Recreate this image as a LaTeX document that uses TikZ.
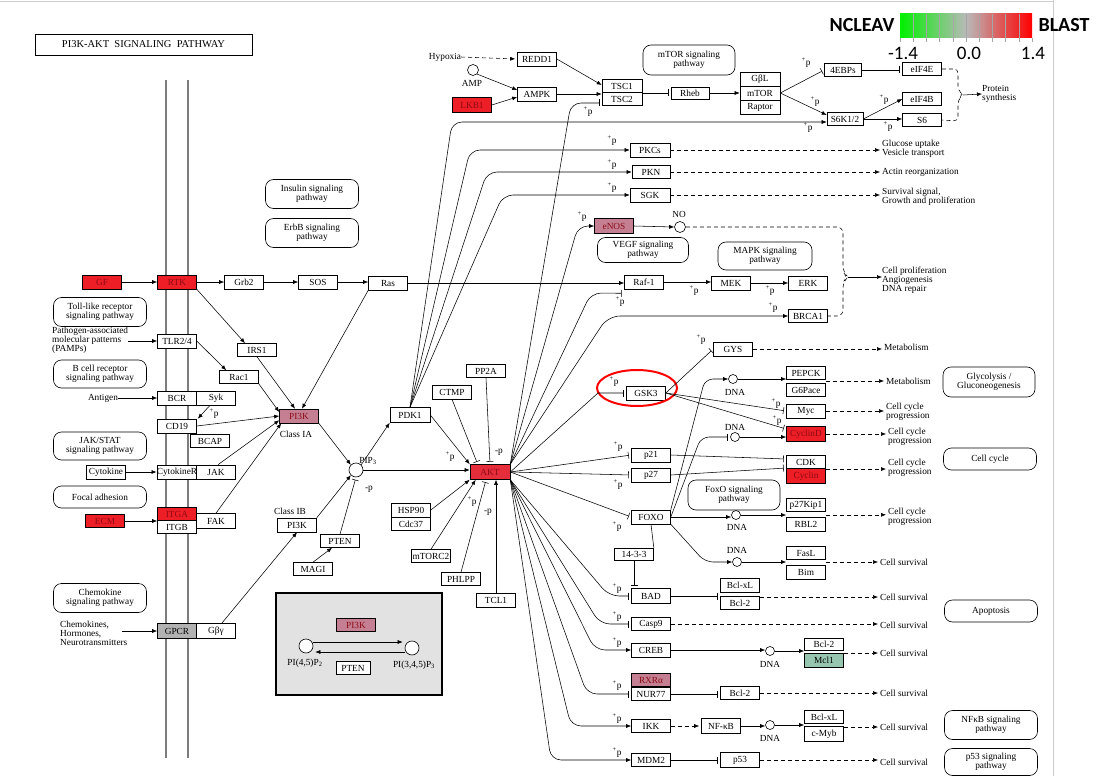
\documentclass[tikz,border=0pt]{standalone}
\usepackage{fontspec}
\setmainfont{Liberation Serif}
\newfontfamily\legfont{Carlito}
\usetikzlibrary{arrows.meta,calc}
\definecolor{kred}{RGB}{238,30,38}
\definecolor{aktred}{RGB}{230,45,60}
\definecolor{kpink}{RGB}{196,128,146}
\definecolor{kgpcr}{RGB}{178,178,178}
\definecolor{kmcl}{RGB}{150,198,175}
\definecolor{redtxt}{RGB}{140,10,20}
\definecolor{membc}{RGB}{125,125,125}
\definecolor{lgreen}{RGB}{0,240,0}
\definecolor{lmid}{RGB}{185,185,185}
\definecolor{lred}{RGB}{255,0,0}
\definecolor{insetc}{RGB}{226,226,226}
\newcommand{\kf}{\fontsize{9.3}{9}\selectfont}
\newcommand{\kplus}{\textsuperscript{+}p}
\begin{document}
\begin{tikzpicture}[x=1pt,y=-1pt,
 g/.style={draw, line width=0.6pt, fill=white, minimum width=39pt, minimum height=14pt, inner sep=0pt, font=\kf},
 gr/.style={g, fill=kred, text=redtxt},
 gp/.style={g, fill=kpink, text=redtxt},
 pw/.style={draw, line width=0.6pt, rounded corners=8pt, align=center, font=\kf, minimum width=93pt, minimum height=29pt, inner sep=1pt},
 lbl/.style={font=\kf, inner sep=0pt, align=left},
 pl/.style={font=\kf, inner sep=0pt},
 circ/.style={circle, draw, line width=0.6pt, minimum size=11pt, inner sep=0pt, fill=white},
 dnac/.style={circle, draw, line width=0.6pt, minimum size=9pt, inner sep=0pt, fill=white},
 ar/.style={-{Latex[length=5pt,width=4pt]}, line width=0.55pt},
 inh/.style={-{Bar[width=7pt]}, line width=0.55pt, shorten >=2.5pt},
 da/.style={ar, dash pattern=on 4pt off 3pt, shorten >=2pt},
 memb/.style={line width=2.6pt, membc}
]
\useasboundingbox (0,0) rectangle (1096,776);
\fill[white] (0,0) rectangle (1096,776);
\draw[black!20, line width=1pt] (0,2) -- (1053,2);
\draw[black!20, line width=1pt] (1053,0) -- (1053,776);

% legend
\shade[left color=lgreen, right color=lmid] (900,14) rectangle (966,38);
\shade[left color=lmid, right color=lred] (966,14) rectangle (1032,38);
\foreach \i in {1,...,9} {\draw[black!35, line width=0.6pt] (900+\i*13.2,14) -- (900+\i*13.2,42);}
\draw[black!35, line width=0.6pt] (900,38) -- (900,42) (1032,38) -- (1032,42);
\node[font=\legfont\bfseries\fontsize{20}{20}\selectfont, inner sep=0pt] (legn) at (862,25) {NCLEAV};
\node[font=\legfont\bfseries\fontsize{20}{20}\selectfont, inner sep=0pt] (legb) at (1064,25) {BLAST};
\node[font=\legfont\fontsize{19}{19}\selectfont, inner sep=0pt] (legl) at (903,53) {-1.4};
\node[font=\legfont\fontsize{19}{19}\selectfont, inner sep=0pt] (legm) at (969,53) {0.0};
\node[font=\legfont\fontsize{19}{19}\selectfont, inner sep=0pt] (legr) at (1033,53) {1.4};

% title and membrane
\node[draw, line width=0.8pt, minimum width=217pt, minimum height=21pt, inner sep=0pt, font=\fontsize{10.5}{11}\selectfont] (title) at (143.5,44.5) {PI3K-AKT\ \ SIGNALING\ \ PATHWAY};
\draw[memb] (166,80) -- (166,758);
\draw[memb] (188,80) -- (188,758);

% ---------- top area
\node[lbl] (hyp) at (445,57) {Hypoxia};
\node[g] (redd1) at (537,59) {REDD1};
\node[circ] (amp) at (473,70) {};
\node[pl] (amplbl) at (472,83) {AMP};
\node[gr, minimum height=15pt] (lkb1) at (472,105) {LKB1};
\node[g] (ampk) at (537,94) {AMPK};
\node[g, minimum width=40pt, minimum height=13pt] (tsc1) at (622,86) {TSC1};
\node[g, minimum width=40pt, minimum height=13pt] (tsc2) at (622,99) {TSC2};
\node[g, minimum width=38pt, minimum height=12pt] (rheb) at (690,93) {Rheb};
\node[pw, minimum width=92pt, minimum height=30pt] (mtorpw) at (689,60) {mTOR signaling\\pathway};
\node[g, minimum width=40pt] (gbl) at (760,79) {GβL};
\node[g, minimum width=40pt] (mtor) at (760,93) {mTOR};
\node[g, minimum width=40pt] (raptor) at (760,107) {Raptor};
\node[g, minimum width=37pt, minimum height=13pt] (ebp) at (843,70) {4EBPs};
\node[g, minimum width=36pt, minimum height=13pt] (s6k) at (845,119) {S6K1/2};
\node[g, minimum height=13pt] (eif4e) at (922,69) {eIF4E};
\node[g, minimum height=13pt] (eif4b) at (922,99) {eIF4B};
\node[g, minimum height=13pt] (s6) at (922,120) {S6};
\node[lbl, anchor=west] (prot) at (982,94) {Protein\\synthesis};

\node[g, minimum width=40pt] (pkcs) at (650,150) {PKCs};
\node[g, minimum width=38pt, minimum height=13pt] (pkn) at (651,172) {PKN};
\node[g, minimum width=40pt] (sgk) at (650,195) {SGK};
\node[lbl, anchor=west] (gluc) at (882,149) {Glucose uptake\\Vesicle transport};
\node[lbl, anchor=west] (actin) at (882,172) {Actin reorganization};
\node[lbl, anchor=west] (surv0) at (882,197) {Survival signal,\\Growth and proliferation};

\node[pw] (insulin) at (312,194) {Insulin signaling\\pathway};
\node[pw] (erbb) at (312,233) {ErbB signaling\\pathway};

\node[gp, minimum height=15pt] (enos) at (614,226) {eNOS};
\node[circ] (no) at (680,227) {};
\node[pl] (nolbl) at (679,214) {NO};
\node[pw, minimum width=91pt, minimum height=25pt] (vegf) at (643,250) {VEGF signaling\\pathway};
\node[pw, minimum width=94pt, minimum height=28pt] (mapk) at (765,256) {MAPK signaling\\pathway};

% ---------- RTK row
\node[gr] (gf) at (102,282) {GF};
\node[gr] (rtk) at (177,282) {RTK};
\node[g] (grb2) at (244,282) {Grb2};
\node[g] (sos) at (318,282) {SOS};
\node[g] (ras) at (388,283) {Ras};
\node[g] (raf) at (644,282) {Raf-1};
\node[g] (mek) at (731,283) {MEK};
\node[g] (erk) at (808,283) {ERK};
\node[g, minimum height=13pt] (brca1) at (808,316) {BRCA1};
\node[lbl, anchor=west] (prolif) at (882,280) {Cell proliferation\\Angiogenesis\\DNA repair};

% ---------- left receptors
\node[pw] (tollpw) at (100,312) {Toll-like receptor\\signaling pathway};
\node[lbl, anchor=west] (pamps) at (52,340) {Pathogen-associated\\molecular patterns\\(PAMPs)};
\node[g] (tlr) at (177,341) {TLR2/4};
\node[g, minimum height=13pt] (irs1) at (257,350) {IRS1};
\node[g, minimum height=13pt] (rac1) at (239,377) {Rac1};
\node[pw, minimum height=28pt] (bcellpw) at (100,374) {B cell receptor\\signaling pathway};
\node[lbl] (antigen) at (103,398) {Antigen};
\node[g] (bcr) at (177,398) {BCR};
\node[g] (syk) at (216,398) {Syk};
\node[g] (cd19) at (177,426) {CD19};
\node[g, minimum height=13pt] (bcap) at (210,441) {BCAP};
\node[pw, minimum height=28pt] (jakpw) at (100,446) {JAK/STAT\\signaling pathway};
\node[g] (cytokine) at (106,472) {Cytokine};
\node[g] (cytr) at (177,472) {CytokineR};
\node[g] (jak) at (216,472) {JAK};
\node[pw, minimum height=22pt] (focalpw) at (100,497) {Focal adhesion};
\node[gr, minimum height=13pt] (ecm) at (105,521) {ECM};
\node[gr, minimum height=12.5pt] (itga) at (177,514) {ITGA};
\node[g, minimum height=13.5pt] (itgb) at (177,527) {ITGB};
\node[g, minimum height=15pt] (fak) at (216,521) {FAK};
\node[pw] (chemopw) at (100,598) {Chemokine\\signaling pathway};
\node[lbl, anchor=west] (chemtext) at (60,633) {Chemokines,\\Hormones,\\Neurotransmitters};
\node[g, fill=kgpcr, minimum height=15pt] (gpcr) at (177,631) {GPCR};
\node[g, minimum height=15pt] (gby) at (216,631) {Gβγ};

% ---------- PI3K / AKT core
\node[gp] (pi3ka) at (299,416) {PI3K};
\node[pl] (classia) at (296,434) {Class IA};
\node[g] (pi3kb) at (297,525) {PI3K};
\node[pl] (classib) at (290,511) {Class IB};
\node[circ, minimum size=14pt] (pip3) at (356,470) {};
\node[pl] (pip3lbl) at (368,461) {PIP\textsubscript{3}};
\node[g, minimum height=13pt] (pten) at (340,541) {PTEN};
\node[g, minimum height=13pt] (magi) at (313,569) {MAGI};
\node[g, minimum width=40pt, minimum height=15pt] (pdk1) at (410,415) {PDK1};
\node[g] (ctmp) at (452,392) {CTMP};
\node[g, minimum height=13pt] (pp2a) at (486,371) {PP2A};
\node[g, fill=aktred, text=redtxt, minimum width=40pt, minimum height=15pt] (akt) at (490,472) {AKT};
\node[g] (hsp90) at (411,510) {HSP90};
\node[g, minimum height=13pt] (cdc37) at (411,524) {Cdc37};
\node[g, minimum height=13pt] (mtorc2) at (431,556) {mTORC2};
\node[g, minimum height=13pt] (phlpp) at (461,579) {PHLPP};
\node[g] (tcl1) at (496,600) {TCL1};

% inset
\draw[line width=1.6pt, fill=insetc] (276,593) rectangle (442,695);
\node[gp, minimum height=13pt] (ipi3k) at (356,625) {PI3K};
\node[circ, minimum size=14pt] (pip2c) at (306,646) {};
\node[pl] (pip2lbl) at (305,663) {PI(4,5)P\textsubscript{2}};
\node[circ, minimum size=14pt] (pip3c) at (412,648) {};
\node[pl] (pip3clbl) at (414,665) {PI(3,4,5)P\textsubscript{3}};
\node[g, minimum width=34pt, minimum height=13pt] (ipten) at (353,668) {PTEN};
\draw[ar] ($(pip2c.east)+(0,-4)$) -- ($(pip3c.west)+(-2,-6)$);
\draw[ar] ($(pip3c.west)+(0,4)$) -- ($(pip2c.east)+(2,6)$);

% ---------- right column
\node[g, minimum height=14pt] (gys) at (733,349) {GYS};
\node[lbl, anchor=west] (metab1) at (884,347) {Metabolism};
\node[g] (gsk3) at (646,393) {GSK3};
\draw[red, line width=2pt] (637,388) ellipse [x radius=40, y radius=18];
\node[dnac] (dna1) at (733,379) {};
\node[pl] (dna1l) at (735,392) {DNA};
\node[g, minimum height=13pt] (pepck) at (806,373) {PEPCK};
\node[g, minimum height=13pt] (g6pace) at (806,390) {G6Pace};
\node[lbl, anchor=west] (metab2) at (886,381) {Metabolism};
\node[pw, minimum width=92pt, minimum height=30pt] (glycpw) at (989,382) {Glycolysis /\\Gluconeogenesis};
\node[g] (myc) at (806,411) {Myc};
\node[gr, minimum height=15pt] (cyclind) at (806,434) {CyclinD};
\node[dnac] (dna2) at (735,437) {};
\node[pl] (dna2l) at (735,427) {DNA};
\node[lbl, anchor=west] (ccp1) at (886,412) {Cell cycle\\progression};
\node[lbl, anchor=west] (ccp2) at (888,437) {Cell cycle\\progression};
\node[g] (p21) at (651,455) {p21};
\node[g] (p27) at (651,475) {p27};
\node[g, minimum height=13.5pt] (cdk) at (806,462) {CDK};
\node[gr, minimum height=14.5pt] (cyclin) at (806,476) {Cyclin};
\node[lbl, anchor=west] (ccp3) at (888,468) {Cell cycle\\progression};
\node[pw, minimum height=22pt] (cellcyclepw) at (990,459) {Cell cycle};
\node[pw, minimum width=92pt, minimum height=30pt] (foxopw) at (734,495) {FoxO signaling\\pathway};
\node[g] (foxo) at (651,517) {FOXO};
\node[dnac] (dna3) at (736,515) {};
\node[pl] (dna3l) at (737,527) {DNA};
\node[g, minimum height=13pt] (p27kip1) at (806,505) {p27Kip1};
\node[g] (rbl2) at (806,524) {RBL2};
\node[lbl, anchor=west] (ccp4) at (888,517) {Cell cycle\\progression};
\node[dnac] (dna4) at (737,562) {};
\node[pl] (dna4l) at (737,550) {DNA};
\node[g, minimum height=13pt] (fasl) at (806,553) {FasL};
\node[g] (bim) at (806,572) {Bim};
\node[lbl, anchor=west] (surv2) at (880,562) {Cell survival};
\node[g, minimum height=12pt] (s1433) at (634,554) {14-3-3};
\node[g, minimum height=15pt] (bad) at (651,596) {BAD};
\node[g] (bclxl1) at (740,585) {Bcl-xL};
\node[g, minimum height=13pt] (bcl21) at (740,603) {Bcl-2};
\node[lbl, anchor=west] (surv3) at (880,597) {Cell survival};
\node[g, minimum height=13pt] (casp9) at (651,624) {Casp9};
\node[lbl, anchor=west] (surv4) at (880,625) {Cell survival};
\node[pw, minimum height=22pt] (apoppw) at (991,611) {Apoptosis};
\node[g] (creb) at (651,650) {CREB};
\node[dnac] (dna5) at (770,651) {};
\node[pl] (dna5l) at (770,664) {DNA};
\node[g, minimum height=12pt] (bcl22) at (824,644) {Bcl-2};
\node[g, fill=kmcl, minimum height=14pt] (mcl1) at (824,660) {Mcl1};
\node[lbl, anchor=west] (surv5) at (880,653) {Cell survival};
\node[gp, minimum height=13pt] (rxra) at (651,680) {RXRα};
\node[g, minimum height=13pt] (nur77) at (651,694) {NUR77};
\node[g, minimum height=13pt] (bcl23) at (740,693) {Bcl-2};
\node[lbl, anchor=west] (surv6) at (880,693) {Cell survival};
\node[g, minimum height=13pt] (ikk) at (651,726) {IKK};
\node[g, minimum height=15pt] (nfkb) at (721,726) {NF-κB};
\node[dnac] (dna6) at (770,725) {};
\node[pl] (dna6l) at (770,738) {DNA};
\node[g, minimum height=13pt] (bclxl2) at (824,717) {Bcl-xL};
\node[g, minimum height=15pt] (cmyb) at (824,734) {c-Myb};
\node[lbl, anchor=west] (surv7) at (880,727) {Cell survival};
\node[pw] (nfkbpw) at (991,725) {NFκB signaling\\pathway};
\node[g, minimum height=13pt] (mdm2) at (651,760) {MDM2};
\node[g, minimum height=15pt] (p53) at (740,760) {p53};
\node[lbl, anchor=west] (surv8) at (880,762) {Cell survival};
\node[pw, minimum height=27pt] (p53pw) at (991,762) {p53 signaling\\pathway};

% ---------- +p / -p labels
\node[pl] (pa) at (588,112) {\kplus};
\node[pl] (pb) at (808,128) {\kplus};
\node[pl] (pc) at (612,141) {\kplus};
\node[pl] (pd) at (612,165) {\kplus};
\node[pl] (pe) at (612,188) {\kplus};
\node[pl] (pf) at (582,217) {\kplus};
\node[pl] (pg) at (620,302) {\kplus};
\node[pl] (ph) at (694,291) {\kplus};
\node[pl] (pi) at (770,291) {\kplus};
\node[pl] (pj) at (773,308) {\kplus};
\node[pl] (pk) at (806,63) {\kplus};
\node[pl] (pl2) at (815,102) {\kplus};
\node[pl] (pm) at (884,100) {\kplus};
\node[pl] (pn) at (888,127) {\kplus};
\node[pl] (po) at (701,340) {\kplus};
\node[pl] (pq) at (614,382) {\kplus};
\node[pl] (pr) at (776,404) {\kplus};
\node[pl] (ps) at (777,421) {\kplus};
\node[pl] (pt) at (618,447) {\kplus};
\node[pl] (pu) at (618,485) {\kplus};
\node[pl] (pv) at (617,527) {\kplus};
\node[pl] (pw1) at (617,589) {\kplus};
\node[pl] (px) at (617,617) {\kplus};
\node[pl] (py) at (617,643) {\kplus};
\node[pl] (pz) at (617,686) {\kplus};
\node[pl] (paa) at (617,719) {\kplus};
\node[pl] (pab) at (617,753) {\kplus};
\node[pl] (pac) at (214,414) {\kplus};
\node[pl] (pad) at (450,457) {\kplus};
\node[pl] (pae) at (472,502) {\kplus};
\node[pl] (maa) at (499,452) {-p};
\node[pl] (mab) at (488,512) {-p};
\node[pl] (mac) at (369,489) {-p};

% ---------- connectors: top
\draw[da] (hyp.east) -- (redd1.west);
\draw[ar] (amp.south east) -- ($(ampk.west)+(0,-4)$);
\draw[ar] (lkb1.east) -- ($(ampk.west)+(0,3)$);
\draw[ar] (redd1.east) -- ($(tsc1.west)+(0,-1)$);
\draw[ar] (ampk.east) -- (ampk.east -| tsc1.west);
\draw[inh] (rheb.west -| tsc1.east) -- (rheb.west);
\draw[ar] (rheb.east) -- (rheb.east -| mtor.west);
\draw[inh] (mtor.east) -- (ebp.west);
\draw[ar] (mtor.east) -- ($(s6k.west)+(0,-4)$);
\draw[inh] (ebp.east) -- (ebp.east -| eif4e.west);
\draw[ar] (s6k.east) -- (eif4b.west);
\draw[ar] (s6k.east) -- (s6k.east -| s6.west);
\draw[line width=0.55pt, dash pattern=on 4pt off 3pt, rounded corners=4pt] (eif4e.east) -- (958,69) -- (958,90) -- (963,95) -- (958,100) -- (958,121) -- (s6.east);
\draw[ar] (963,95) -- (prot.west);

\draw[ar, rounded corners=10pt] (pdk1.north) -- (452,122) -- ($(s6k.west)+(0,3)$);
\draw[ar, rounded corners=10pt] (pdk1.north) -- (470,150) -- (pkcs.west);
\draw[ar, rounded corners=10pt] (pdk1.north) -- (487,172) -- (pkn.west);
\draw[ar, rounded corners=10pt] (pdk1.north) -- (503,195) -- (sgk.west);
\draw[da] (pkcs.east) -- (pkcs.east -| gluc.west);
\draw[da] (pkn.east) -- (actin.west);
\draw[da] (sgk.east) -- (sgk.east -| surv0.west);

\draw[inh, rounded corners=10pt] (akt.north east) -- (571,103) -- ($(tsc2.west)+(0,4)$);
\draw[ar, rounded corners=10pt] (akt.north east) -- (578,226) -- (enos.west);
\draw[ar] (enos.east) -- (no.west);
\draw[line width=0.55pt, dash pattern=on 4pt off 3pt, rounded corners=6pt] (no.east) -- (843,227) -- (843,272) -- (848,277) -- (843,282) -- (843,316) -- (brca1.east);
\draw[ar] (848,277) -- (848,277 -| prolif.west);

\draw[ar] (ras.east) -- (ras.east -| raf.west);
\draw[ar] (raf.east) -- (raf.east -| mek.west);
\draw[ar] (mek.east) -- (mek.east -| erk.west);
\draw[inh, rounded corners=10pt] (akt.north east) -- (591,293) -- ($(raf.south west)+(0,4)$);
\draw[ar, rounded corners=12pt] (akt.north east) -- (608,316) -- (brca1.west);

% ---------- connectors: left
\draw[ar] (gf.east) -- (rtk.west);
\draw[ar] (rtk.east) -- (grb2.west);
\draw[ar] (grb2.east) -- (sos.west);
\draw[ar] (sos.east) -- (sos.east -| ras.west);
\draw[ar] (rtk.south east) -- ($(irs1.north)+(-12,0)$);
\draw[ar] (irs1.south) -- ($(pi3ka.north)+(-4,0)$);
\draw[ar] (ras.south west) -- ($(pi3ka.north)+(3,0)$);
\draw[ar] (tlr.west -| pamps.east) -- (tlr.west);
\draw[ar] (tlr.east) -- ($(rac1.north west)+(7,0)$);
\draw[ar] (rac1.south east) -- ($(pi3ka.west)+(0,-4)$);
\draw[ar] (antigen.east) -- (bcr.west);
\draw[ar] ($(syk.south)+(-6,0)$) -- ($(cd19.north east)+(1,0)$);
\draw[ar] (cd19.east) -- ($(pi3ka.west)+(0,0)$);
\draw[ar] ($(jak.north)+(2,0)$) -- ($(pi3ka.south west)+(0,-3)$);
\draw[ar] (fak.north) -- ($(pi3ka.south west)+(2,0)$);
\draw[ar] (cytokine.east) -- (cytr.west);
\draw[ar] (ecm.east) -- (ecm.east -| itga.west);
\draw[ar] ($(gpcr.west)+(-35,0)$) -- (gpcr.west);
\draw[ar] ($(gby.north east)+(-14,0)$) -- (pi3kb.south);

% ---------- core
\draw[ar] (pi3ka.south east) -- (pip3.north west);
\draw[ar] (pi3kb.north east) -- (pip3.south west);
\draw[inh] (pten.north) -- (pip3.south);
\draw[ar] (magi.north) -- ($(pten.south)+(-8,0)$);
\draw[ar] (pip3.north east) -- (pdk1.south west);
\draw[ar] (pip3.east) -- (pip3.east -| akt.west);
\draw[ar] (pdk1.east) -- (akt.north west);
\draw[inh] (ctmp.south) -- ($(akt.north west)+(8,0)$);
\draw[inh] (pp2a.south) -- (akt.north);
\draw[ar] (hsp90.east) -- (akt.south west);
\draw[ar] (mtorc2.north) -- ($(akt.south west)+(6,0)$);
\draw[inh] (phlpp.north) -- ($(akt.south)+(-4,0)$);
\draw[ar] (tcl1.north) -- (tcl1.north |- akt.south);

% ---------- AKT fan right
\draw[inh] (akt.east) -- (598,393) -- (gsk3.west);
\draw[inh] (gsk3.east) -- (gys.west);
\draw[da] (gys.east) -- (gys.east -| metab1.west);
\draw[inh] (gsk3.east) -- (myc.west);
\draw[inh] (gsk3.east) -- ($(cyclind.west)+(0,-5)$);
\draw[inh] (akt.east) -- (p21.west);
\draw[inh] (akt.east) -- (p27.west);
\draw[inh] (akt.east) -- (foxo.west);
\draw[inh] (p21.east) -- ($(cdk.west)+(0,-3)$);
\draw[inh] (p27.east) -- ($(cdk.west)+(0,6)$);
\draw[ar, rounded corners=8pt] (foxo.north east) -- (705,379) -- (dna1.west);
\draw[inh, rounded corners=8pt] (foxo.east) -- (701,437) -- (dna2.west);
\draw[ar] (foxo.east) -- (foxo.east -| dna3.west);
\draw[ar, rounded corners=8pt] (foxo.south east) -- (705,562) -- (dna4.west);
\draw[ar] (dna1.east) -- (dna1.east -| pepck.west);
\draw[ar] (dna2.east) -- (dna2.east -| cyclind.west);
\draw[ar] (dna3.east) -- (dna3.east -| p27kip1.west);
\draw[ar] (dna4.east) -- (dna4.east -| fasl.west);
\draw[line width=0.55pt] (foxo.south) -- (s1433.north east);
\draw[inh] (s1433.south) -- (s1433.south |- bad.north);
\draw[inh, rounded corners=10pt] (akt.south east) -- (609,596) -- (bad.west);
\draw[inh] (bad.east) -- (bad.east -| bclxl1.west);
\draw[inh, rounded corners=10pt] (akt.south east) -- (600,624) -- (casp9.west);
\draw[ar, rounded corners=10pt] (akt.south east) -- (595,650) -- (creb.west);
\draw[ar] (creb.east) -- (creb.east -| dna5.west);
\draw[ar] (dna5.east) -- (dna5.east -| bcl22.west);
\draw[inh, rounded corners=10pt] (akt.south east) -- (587,694) -- (nur77.west);
\draw[inh] (nur77.east) -- (nur77.east -| bcl23.west);
\draw[ar, rounded corners=10pt] (akt.south east) -- (571,726) -- (ikk.west);
\draw[da] (ikk.east) -- (nfkb.west);
\draw[ar] (nfkb.east) -- (nfkb.east -| dna6.west);
\draw[ar] (dna6.east) -- (dna6.east -| bclxl2.west);
\draw[ar, rounded corners=10pt] (akt.south east) -- (551,760) -- (mdm2.west);
\draw[inh] (mdm2.east) -- (p53.west);

% outputs
\draw[da] (pepck.south east |- metab2.west) -- (metab2.west);
\draw[da] (myc.east) -- (myc.east -| ccp1.west);
\draw[da] (cyclind.east) -- (cyclind.east -| ccp2.west);
\draw[da] (cdk.south east) -- (cdk.south east -| ccp3.west);
\draw[da] ($(p27kip1.south east)+(0,3)$) -- ($(p27kip1.south east -| ccp4.west)+(0,3)$);
\draw[da] (fasl.south east |- surv2.west) -- (surv2.west);
\draw[da] (bclxl1.south east |- surv3.west) -- (surv3.west);
\draw[da] (casp9.east) -- (casp9.east -| surv4.west);
\draw[da] (bcl22.south east |- surv5.west) -- (surv5.west);
\draw[da] (bcl23.east) -- (bcl23.east -| surv6.west);
\draw[da] (bclxl2.south east |- surv7.west) -- (surv7.west);
\draw[da] (p53.east) -- (p53.east -| surv8.west);
\end{tikzpicture}
\end{document}
